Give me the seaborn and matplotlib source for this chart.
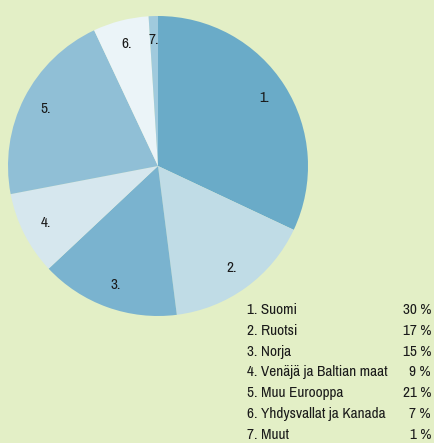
import matplotlib
matplotlib.use("Agg")
import matplotlib.pyplot as plt
import seaborn as sns

# osuudet (kulmat luettu kuvasta) ja selitteen tekstit
numbers = ['1.', '2.', '3.', '4.', '5.', '6.', '7.']
shares = [32, 16, 15, 9, 21, 6, 1]
names = ['1. Suomi', '2. Ruotsi', '3. Norja', '4. Venäjä ja Baltian maat',
         '5. Muu Eurooppa', '6. Yhdysvallat ja Kanada', '7. Muut']
pct_labels = ['30 %', '17 %', '15 %', '9 %', '21 %', '7 %', '1 %']

colors = ['#6aabc8', '#c0dce6', '#7ab3cf', '#d6e7ee', '#90bfd6', '#ebf4f8', '#a0cadd']
bg = '#e3efc6'

sns.set_style('white')
plt.rcParams['font.family'] = ['Archivo Narrow', 'Barlow Condensed', 'DejaVu Sans']

fig = plt.figure(figsize=(4.35, 4.43), dpi=100, facecolor=bg)
ax = fig.add_axes([8 / 435, 1 - 316 / 443, 300 / 435, 300 / 443])
ax.set_facecolor(bg)

wedges, texts = ax.pie(shares, labels=numbers, colors=colors, startangle=90,
                       counterclock=False, labeldistance=0.84,
                       wedgeprops=dict(linewidth=0),
                       textprops=dict(fontsize=11, color='#1a1a1a',
                                      ha='center', va='center'))
ax.set_xlim(-1, 1)
ax.set_ylim(-1, 1)
ax.set_aspect('equal')
ax.axis('off')

# selite
y0 = 310
for i, (n, p) in enumerate(zip(names, pct_labels)):
    y = 1 - (y0 + i * 20.8) / 443
    fig.text(247 / 435, y, n, fontsize=11, color='#1a1a1a', va='center', ha='left')
    fig.text(431 / 435, y, p, fontsize=11, color='#1a1a1a', va='center', ha='right')

fig.savefig('out.png', dpi=100, facecolor=bg)
